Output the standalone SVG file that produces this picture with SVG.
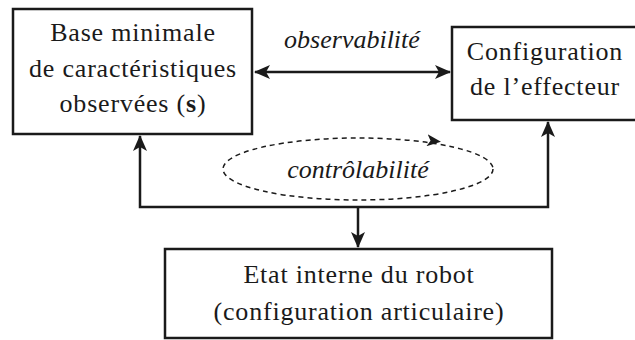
<svg xmlns="http://www.w3.org/2000/svg" width="635" height="340" viewBox="0 0 635 340" font-family="Liberation Serif">
<style>
.box{fill:#fff;stroke:#1a1a1a;stroke-width:2.5}
.ln{fill:none;stroke:#1a1a1a;stroke-width:2.5}
.dash{fill:none;stroke:#1a1a1a;stroke-width:1.5;stroke-dasharray:5 4}
</style>
<defs>
<marker id="ah" viewBox="0 0 16 14" refX="15" refY="7" markerWidth="16" markerHeight="14" markerUnits="userSpaceOnUse" orient="auto-start-reverse">
<path d="M0,0 L16,7 L0,14 L4,7 Z" fill="#1a1a1a"/>
</marker>
<marker id="ah2" viewBox="0 0 14 12" refX="7" refY="6" markerWidth="14" markerHeight="12" markerUnits="userSpaceOnUse" orient="auto">
<path d="M0,0 L14,6 L0,12 L3.5,6 Z" fill="#1a1a1a"/>
</marker>
</defs>
<g id="connectors">
<line class="ln" x1="255" y1="72" x2="450" y2="72" marker-start="url(#ah)" marker-end="url(#ah)"/>
<polyline class="ln" points="140,136 140,207 548,207 548,122" marker-start="url(#ah)" marker-end="url(#ah)"/>
<line class="ln" x1="358" y1="207" x2="358" y2="247" marker-end="url(#ah)"/>
<ellipse class="dash" cx="358" cy="169" rx="135" ry="31"/>
<path d="M420,139.5 L434,141" fill="none" stroke="none" marker-end="url(#ah2)"/>
<text font-family="Liberation Serif" font-size="26" font-style="italic" text-anchor="middle" fill="#1a1a1a" x="352" y="48">observabilité</text>
<text font-family="Liberation Serif" font-size="26" font-style="italic" text-anchor="middle" fill="#1a1a1a" x="358" y="178">contrôlabilité</text>
</g>
<g id="node-base">
<rect class="box" x="13" y="9" width="239" height="125"/>
<text font-family="Liberation Serif" font-size="26" text-anchor="middle" letter-spacing="0.8" fill="#1a1a1a" x="133" y="41">Base minimale</text>
<text font-family="Liberation Serif" font-size="26" text-anchor="middle" letter-spacing="0.8" fill="#1a1a1a" x="133" y="77">de caractéristiques</text>
<text font-family="Liberation Serif" font-size="26" text-anchor="middle" letter-spacing="0.8" fill="#1a1a1a" x="133" y="112">observées (<tspan font-weight="bold">s</tspan>)</text>
</g>
<g id="node-effecteur">
<rect class="box" x="452" y="27" width="186" height="93"/>
<text font-family="Liberation Serif" font-size="26" text-anchor="middle" letter-spacing="0.8" fill="#1a1a1a" x="545" y="60">Configuration</text>
<text font-family="Liberation Serif" font-size="26" text-anchor="middle" letter-spacing="0.8" fill="#1a1a1a" x="545" y="95">de l’effecteur</text>
</g>
<g id="node-etat">
<rect class="box" x="165" y="249" width="387" height="89"/>
<text font-family="Liberation Serif" font-size="26" text-anchor="middle" letter-spacing="0.8" fill="#1a1a1a" x="359" y="283">Etat interne du robot</text>
<text font-family="Liberation Serif" font-size="26" text-anchor="middle" letter-spacing="0.8" fill="#1a1a1a" x="359" y="320">(configuration articulaire)</text>
</g>
</svg>
